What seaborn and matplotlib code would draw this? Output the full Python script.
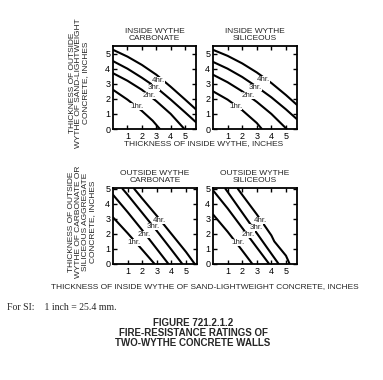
import matplotlib
matplotlib.use("Agg")
import matplotlib.pyplot as plt
import seaborn as sns
import pandas as pd

sns.set_style("ticks")
plt.rcParams['font.family'] = ['Liberation Sans', 'DejaVu Sans']

ratings = ["1hr.", "2hr.", "3hr.", "4hr."]

# Top-left: inside wythe carbonate
tl_1hr_x = [0, 1, 2, 2.75, 3.25]; tl_1hr_y = [2.6, 1.95, 1.2, 0.55, 0]
tl_2hr_x = [0, 1, 2, 3, 4, 4.95]; tl_2hr_y = [3.7, 3.2, 2.6, 1.85, 1.0, 0]
tl_3hr_x = [0, 1, 2, 3, 4, 5, 5.75]; tl_3hr_y = [4.5, 4.0, 3.4, 2.75, 1.95, 1.1, 0.45]
tl_4hr_x = [0, 1, 2, 3, 4, 5, 5.75]; tl_4hr_y = [5.25, 4.8, 4.25, 3.6, 2.8, 1.95, 1.3]

# Top-right: inside wythe siliceous
tr_1hr_x = [0, 1, 2, 3, 3.35]; tr_1hr_y = [2.5, 1.95, 1.25, 0.4, 0]
tr_2hr_x = [0, 1, 2, 3, 4, 5.05]; tr_2hr_y = [3.6, 3.1, 2.5, 1.8, 1.0, 0]
tr_3hr_x = [0, 1, 2, 3, 4, 5, 5.75]; tr_3hr_y = [4.45, 4.0, 3.45, 2.8, 2.1, 1.3, 0.65]
tr_4hr_x = [0, 1, 2, 3, 4, 5, 5.75]; tr_4hr_y = [5.25, 4.85, 4.35, 3.75, 3.05, 2.25, 1.6]

# Bottom-left: outside wythe carbonate
bl_1hr_x = [0, 1, 2, 2.85]; bl_1hr_y = [3.1, 2.05, 0.95, 0]
bl_2hr_x = [0, 1, 2, 3, 3.8]; bl_2hr_y = [4.6, 3.45, 2.25, 1.0, 0]
bl_3hr_x = [0.65, 1, 2, 3, 4, 4.75]; bl_3hr_y = [5, 4.6, 3.4, 2.2, 0.95, 0]
bl_4hr_x = [1.45, 2, 3, 4, 5, 5.6]; bl_4hr_y = [5, 4.35, 3.2, 2.0, 0.8, 0]

# Bottom-right: outside wythe siliceous
br_1hr_x = [0, 1, 2, 2.7]; br_1hr_y = [3.3, 2.15, 0.9, 0]
br_2hr_x = [0, 1, 2, 3, 3.85]; br_2hr_y = [4.9, 3.7, 2.4, 1.1, 0]
br_3hr_x = [0.85, 1, 2, 3, 4, 4.5]; br_3hr_y = [5, 4.8, 3.42, 2.05, 0.68, 0]
br_4hr_x = [1.7, 2, 3, 4, 4.2, 5, 5.25]; br_4hr_y = [5, 4.6, 3.3, 1.9, 1.5, 0.55, 0]

# label positions (x, y) per panel in order 1hr..4hr
tl_lab = [(1.67, 1.51), (2.48, 2.23), (2.83, 2.73), (3.13, 3.2)]
tr_lab = [(1.56, 1.51), (2.42, 2.22), (2.91, 2.73), (3.43, 3.27)]
bl_lab = [(1.47, 1.45), (2.16, 1.99), (2.74, 2.5), (3.2, 2.91)]
br_lab = [(1.73, 1.46), (2.4, 1.99), (2.94, 2.45), (3.27, 2.91)]

panels = [
    ("INSIDE WYTHE\nCARBONATE", [0.295, 0.6605, 0.2167, 0.2184], 5.5,
     [(tl_1hr_x, tl_1hr_y), (tl_2hr_x, tl_2hr_y), (tl_3hr_x, tl_3hr_y), (tl_4hr_x, tl_4hr_y)], tl_lab),
    ("INSIDE WYTHE\nSILICEOUS", [0.556, 0.6605, 0.2193, 0.2184], 5.5,
     [(tr_1hr_x, tr_1hr_y), (tr_2hr_x, tr_2hr_y), (tr_3hr_x, tr_3hr_y), (tr_4hr_x, tr_4hr_y)], tr_lab),
    ("OUTSIDE WYTHE\nCARBONATE", [0.295, 0.3053, 0.2193, 0.2], 5.05,
     [(bl_1hr_x, bl_1hr_y), (bl_2hr_x, bl_2hr_y), (bl_3hr_x, bl_3hr_y), (bl_4hr_x, bl_4hr_y)], bl_lab),
    ("OUTSIDE WYTHE\nSILICEOUS", [0.556, 0.3053, 0.2193, 0.2], 5.05,
     [(br_1hr_x, br_1hr_y), (br_2hr_x, br_2hr_y), (br_3hr_x, br_3hr_y), (br_4hr_x, br_4hr_y)], br_lab),
]

fig = plt.figure(figsize=(3.83, 3.80), dpi=100)
fs = 6

for title, rect, ytop, curves, labs in panels:
    ax = fig.add_axes(rect)
    for (cx, cy), name in zip(curves, ratings):
        df = pd.DataFrame({"x": cx, "y": cy})
        sns.lineplot(data=df, x="x", y="y", ax=ax, color="black", linewidth=1.5,
                     estimator=None, sort=False)
    for (lx, ly), name in zip(labs, ratings):
        ax.text(lx, ly, name, fontsize=5.8, ha="center", va="center", zorder=5,
                bbox=dict(facecolor="white", edgecolor="none", pad=0.0))
    ax.set_xlim(0, 5.75)
    ax.set_ylim(0, ytop)
    ax.set_xticks([1, 2, 3, 4, 5])
    ax.set_yticks([0, 1, 2, 3, 4, 5])
    ax.set_xlabel("")
    ax.set_ylabel("")
    ax.tick_params(direction="in", length=3, width=1, top=True, right=True,
                   labelsize=6.5, pad=2, colors="black")
    for s in ax.spines.values():
        s.set_linewidth(1.3)
        s.set_color("black")
    ax.set_title(title, fontsize=fs, pad=4, linespacing=1.05)

# axis labels
fig.text(204 / 383, 1 - 144 / 380, "THICKNESS OF INSIDE WYTHE, INCHES", fontsize=fs,
         ha="center", va="center")
fig.text(205 / 383, 1 - 287 / 380,
         "THICKNESS OF INSIDE WYTHE OF SAND-LIGHTWEIGHT CONCRETE, INCHES",
         fontsize=fs, ha="center", va="center")
fig.text(79 / 383, 1 - 83 / 380,
         "THICKNESS OF OUTSIDE\nWYTHE OF SAND-LIGHTWEIGHT\nCONCRETE, INCHES",
         fontsize=fs, ha="center", va="center", rotation=90, linespacing=1.0)
fig.text(82 / 383, 1 - 222 / 380,
         "THICKNESS OF OUTSIDE\nWYTHE OF CARBONATE OR\nSILICEOUS AGGREGATE\nCONCRETE, INCHES",
         fontsize=fs, ha="center", va="center", rotation=90, linespacing=1.0)

fig.text(7 / 383, 1 - 307 / 380, "For SI:    1 inch = 25.4 mm.", fontsize=7,
         family=["Liberation Serif", "DejaVu Serif"], ha="left", va="center")
fig.text(193 / 383, 1 - 333 / 380,
         "FIGURE 721.2.1.2\nFIRE-RESISTANCE RATINGS OF\nTWO-WYTHE CONCRETE WALLS",
         fontsize=7, fontweight="bold", ha="center", va="center", linespacing=1.05)

fig.savefig("out.png", dpi=100, facecolor="white")
